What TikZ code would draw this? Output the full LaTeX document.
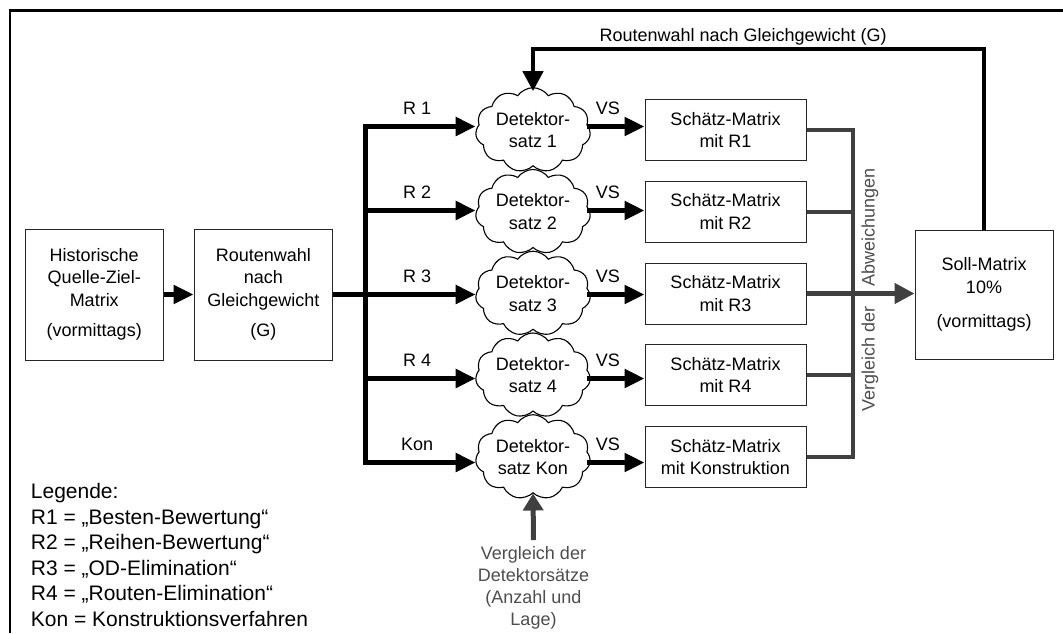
\documentclass[tikz,border=0pt]{standalone}
\usepackage{fontspec}
\setmainfont{Liberation Sans}
\usetikzlibrary{arrows.meta,shapes.symbols}
\definecolor{linegray}{RGB}{64,64,64}
\definecolor{textgray}{RGB}{77,77,77}
\begin{document}
\begin{tikzpicture}[x=1pt,y=-1pt,
  every node/.style={font=\fontsize{18}{22.5}\selectfont, inner sep=0pt},
  box/.style={draw=black!85, line width=1pt, align=center,
    minimum width=161pt, minimum height=61pt},
  bigbox/.style={draw=black!85, line width=1pt, align=center,
    minimum width=138.5pt, minimum height=131pt},
  detcloud/.style={cloud, draw, line width=1.1pt, cloud puffs=11,
    cloud puff arc=110, aspect=1.45, minimum width=115pt,
    minimum height=79pt, align=center},
  thickarrow/.style={line width=5pt, -{Triangle[length=20pt,width=18pt]}},
  grayline/.style={draw=linegray, line width=4pt},
  grayarrow/.style={draw=linegray, fill=linegray, line width=4.5pt,
    -{Triangle[length=20pt,width=20pt]}},
  graytext/.style={text=textgray, align=center,
    font=\fontsize{18}{22}\selectfont}
]
\useasboundingbox (0,0) rectangle (1063,633);

% outer frame (left and top edges)
\draw[line width=2.6pt] (10,633) -- (10,10.5) -- (1063,10.5);

% input matrix and route choice
\node[bigbox] (hist) at (94.25,294.5)
  {Historische\\Quelle-Ziel-\\Matrix\\[8pt](vormittags)};
\node[bigbox] (route) at (263.3,294.5)
  {Routenwahl\\nach\\Gleichgewicht\\[8pt](G)};
\node[bigbox, minimum width=138pt, minimum height=129pt] (soll) at (984,294.5)
  {Soll-Matrix\\10\%\\[12pt](vormittags)};

\draw[thickarrow] (hist.east) -- (route.west);

% collector line position
\coordinate (colx) at (852.5,0);

% detector sets and estimated matrices
\foreach \i/\dl/\rl/\sl in {1/1/R 1/R1, 2/2/R 2/R2, 3/3/R 3/R3,
                            4/4/R 4/R4, 5/Kon/Kon/Konstruktion} {
  \pgfmathsetmacro\cy{130+81.75*(\i-1)}
  \pgfmathsetmacro\ry{126.5+84*(\i-1)}
  \node[detcloud] (c\i) at (533,\cy) {Detektor-\\satz \dl};
  \node[box] (s\i) at (725.5,\cy) {Schätz-Matrix\\mit \sl};
  \coordinate (b\i) at (365,\ry);
  \draw[thickarrow] (b\i) -- (c\i.west |- b\i)
    node[pos=0.47, above=9.5pt] {\rl};
  \draw[thickarrow] ([xshift=-3pt]c\i.east |- b\i) -- (s\i.west |- b\i)
    node[pos=0.36, above=9.5pt] {VS};
}

% distribution bus
\draw[line width=5pt] (route.east) -- (b3);
\draw[line width=5pt, line cap=rect] (b1) -- (b5);

% comparison collector
\draw[grayline] (s1.east) -- (s1.east -| colx) -- (s5.east -| colx) -- (s5.east);
\foreach \i in {2,4} \draw[grayline] (s\i.east) -- (s\i.east -| colx);
\draw[grayarrow] (s3.east) -- (soll.west |- s3.east);
\node[graytext, rotate=90, anchor=base] (dev) at (874.5,290)
  {Vergleich der\hspace{15pt} Abweichungen};

% feedback loop
\coordinate (fbr) at (984,49);
\coordinate (fbl) at (533,49);
\draw[line width=4.5pt, -{Triangle[length=20pt,width=20pt]}]
  (soll.north) -- (fbr)
  -- node[pos=0.534, anchor=base, yshift=7.5pt] {Routenwahl nach Gleichgewicht (G)}
  (fbl) -- ([yshift=-4pt]c1.north);

% detector comparison input
\node[graytext, anchor=north] (cmp) at (533.5,546.5)
  {Vergleich der\\Detektorsätze\\(Anzahl und\\Lage)};
\draw[draw=linegray, line width=5pt, -{Triangle[length=17pt,width=20pt]}]
  ([yshift=6.5pt]cmp.north) -- (c5.south);

% legend
\node[font=\fontsize{21}{25.6}\selectfont, align=left, anchor=north west] (leg)
  at (30.7,483)
  {Legende:\\R1 = „Besten-Bewertung“\\R2 = „Reihen-Bewertung“\\R3 = „OD-Elimination“\\R4 = „Routen-Elimination“\\Kon = Konstruktionsverfahren};
\end{tikzpicture}
\end{document}
